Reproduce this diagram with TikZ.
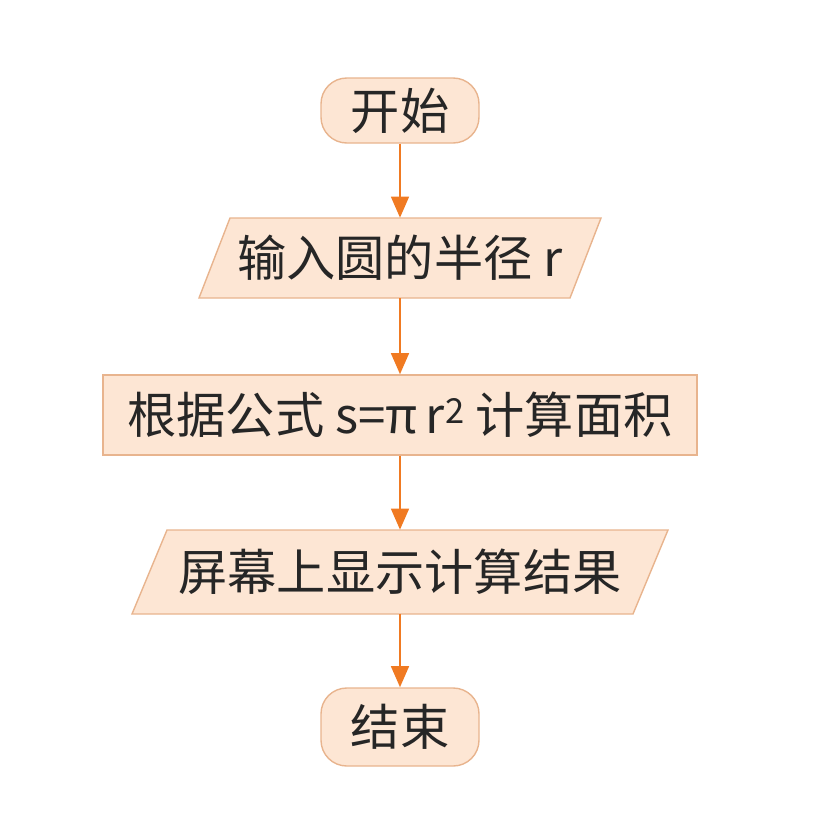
\documentclass[tikz,border=0pt]{standalone}
\usepackage{fontspec}
\setmainfont{Noto Sans CJK SC}
\usetikzlibrary{arrows.meta}
\definecolor{boxfill}{HTML}{FDE6D4}
\definecolor{boxdraw}{HTML}{E8B48E}
\definecolor{arr}{HTML}{F07A22}
\begin{document}
\begin{tikzpicture}[x=0.03cm,y=-0.03cm,
  box/.style={fill=boxfill,draw=boxdraw,line width=1.2pt},
  txt/.style={font=\fontsize{42}{46}\selectfont,text=black!85},
  flow/.style={draw=arr,line width=2.4pt,-{Triangle[length=18pt,width=15pt]}}]
\useasboundingbox (0,0) rectangle (814,829);
\node[box,rounded corners=22pt,minimum width=158*0.03cm,minimum height=65*0.03cm,txt] (start) at (400,110.5) {开始};
\filldraw[box] (230,218) -- (601,218) -- (570,298) -- (199,298) -- cycle;
\node[txt,minimum height=80*0.03cm,minimum width=340*0.03cm] (in) at (400,258) {输入圆的半径 r};
\node[box,minimum width=594*0.03cm,minimum height=80*0.03cm,txt] (proc) at (400,415) {根据公式 s=π\,r\textsuperscript{2} 计算面积};
\filldraw[box] (167,530) -- (668,530) -- (633,614) -- (132,614) -- cycle;
\node[txt,minimum height=84*0.03cm,minimum width=460*0.03cm] (out) at (400,572) {屏幕上显示计算结果};
\node[box,rounded corners=22pt,minimum width=158*0.03cm,minimum height=78*0.03cm,txt] (end) at (400,727) {结束};
\draw[flow] (start) -- (in);
\draw[flow] (in) -- (proc);
\draw[flow] (proc) -- (out);
\draw[flow] (out) -- (end);
\end{tikzpicture}
\end{document}
